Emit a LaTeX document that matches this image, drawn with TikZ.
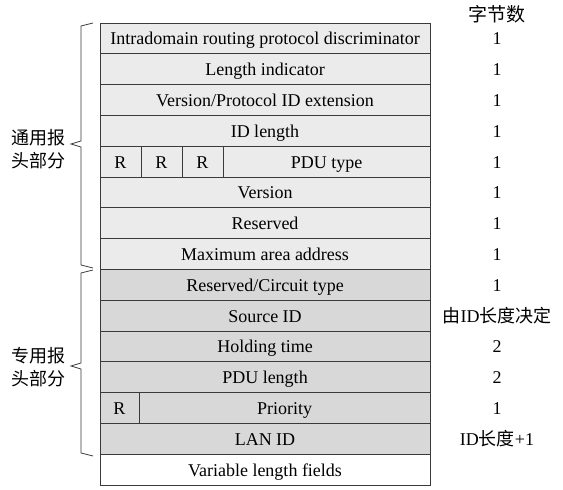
\documentclass[tikz,border=0pt]{standalone}
\usepackage{fontspec}
\setmainfont{Liberation Serif}
\newfontfamily\cjk{Noto Sans CJK SC}
\usepackage{tikz}
\usetikzlibrary{positioning}
\definecolor{HeadGray}{HTML}{EBEBEB}
\definecolor{SpecGray}{HTML}{D8D8D8}
\definecolor{RuleGray}{HTML}{3A3A3A}

\begin{document}
\begin{tikzpicture}[x=1pt, y=-1pt,
    field/.style={draw=RuleGray, line width=0.9pt, anchor=north west, outer sep=0pt, inner sep=0pt,
      minimum width=330pt, minimum height=30.8pt, text height=14.5pt, text depth=1.5pt,
      font=\fontsize{18}{20}\selectfont},
    common/.style={field, fill=HeadGray},
    special/.style={field, fill=SpecGray},
    bytes/.style={font=\fontsize{18}{20}\selectfont, text height=14.5pt, text depth=1.5pt},
    cjklabel/.style={align=center, inner sep=0pt, font=\cjk\fontsize{18}{23}\selectfont},
    bracket/.style={draw=RuleGray, line width=0.8pt}]
  \useasboundingbox (0,0) rectangle (563,490);
  \coordinate (bytecol) at (497,0);

  % common header
  \node[common] (disc) at (100,23) {Intradomain routing protocol discriminator};
  \node[common] (lenind) at (disc.south west) {Length indicator};
  \node[common] (verext) at (lenind.south west) {Version/Protocol ID extension};
  \node[common] (idlen) at (verext.south west) {ID length};
  \node[common, minimum width=41pt] (ra) at (idlen.south west) {R};
  \node[common, minimum width=41pt] (rb) at (ra.north east) {R};
  \node[common, minimum width=41pt] (rc) at (rb.north east) {R};
  \node[common, minimum width=207pt] (pdutype) at (rc.north east) {PDU type};
  \node[common] (version) at (ra.south west) {Version};
  \node[common] (resvd) at (version.south west) {Reserved};
  \node[common] (maxarea) at (resvd.south west) {Maximum area address};

  % specific header
  \node[special] (circuit) at (maxarea.south west) {Reserved/Circuit type};
  \node[special] (srcid) at (circuit.south west) {Source ID};
  \node[special] (holding) at (srcid.south west) {Holding time};
  \node[special] (pdulen) at (holding.south west) {PDU length};
  \node[special, minimum width=39pt] (rp) at (pdulen.south west) {R};
  \node[special, minimum width=291pt] (prio) at (rp.north east) {Priority};
  \node[special] (lanid) at (rp.south west) {LAN ID};
  \node[field, fill=white] (varlen) at (lanid.south west) {Variable length fields};

  % byte counts
  \node[cjklabel, font=\cjk\fontsize{19}{23}\selectfont] (bytehead) at (497,14) {字节数};
  \node[bytes] (b1) at (disc -| bytecol) {1};
  \node[bytes] (b2) at (lenind -| bytecol) {1};
  \node[bytes] (b3) at (verext -| bytecol) {1};
  \node[bytes] (b4) at (idlen -| bytecol) {1};
  \node[bytes] (b5) at (ra -| bytecol) {1};
  \node[bytes] (b6) at (version -| bytecol) {1};
  \node[bytes] (b7) at (resvd -| bytecol) {1};
  \node[bytes] (b8) at (maxarea -| bytecol) {1};
  \node[bytes] (b9) at (circuit -| bytecol) {1};
  \node[bytes] (b10) at (srcid -| bytecol) {{\cjk 由}ID{\cjk 长度决定}};
  \node[bytes] (b11) at (holding -| bytecol) {2};
  \node[bytes] (b12) at (pdulen -| bytecol) {2};
  \node[bytes] (b13) at (rp -| bytecol) {1};
  \node[bytes] (b14) at (lanid -| bytecol) {ID{\cjk 长度}+1};

  % braces
  \draw[bracket] (93,23) -- (81,26) -- (81,141) -- (71,144) -- (81,147) -- (81,265) -- (93,268);
  \draw[bracket] (93,270) -- (81,273) -- (81,363) -- (71,366) -- (81,369) -- (81,453) -- (93,456);
  \node[cjklabel] (commonlab) at (39,149) {通用报\\头部分};
  \node[cjklabel] (speclab) at (39,367) {专用报\\头部分};
\end{tikzpicture}
\end{document}
